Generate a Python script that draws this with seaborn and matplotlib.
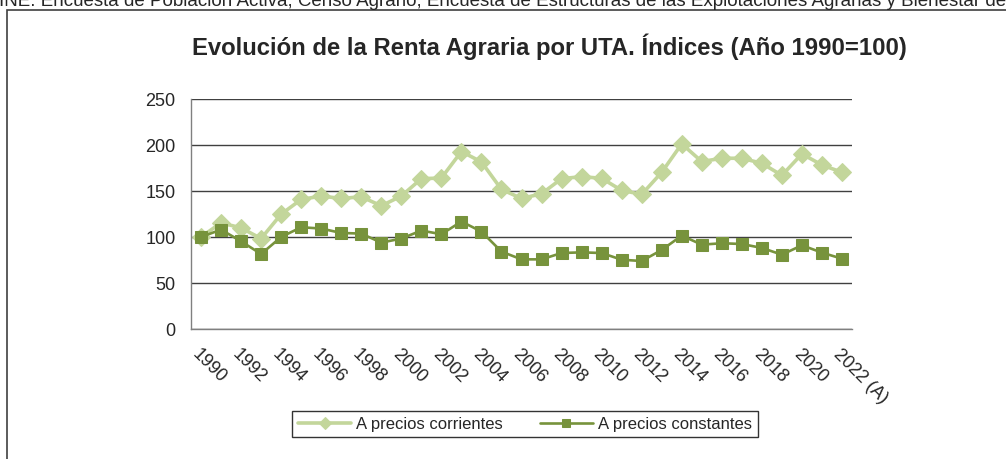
#!/usr/bin/env python3
# -*- coding: utf-8 -*-

import numpy as np
import pandas as pd
import matplotlib
matplotlib.use("Agg")
import matplotlib.pyplot as plt
import matplotlib.transforms as mtransforms
import seaborn as sns
from matplotlib.patches import Rectangle

# ---------------------------------------------------------------------------
# Data
# ---------------------------------------------------------------------------
years = [str(y) for y in range(1990, 2022)] + ["2022 (A)"]

corrientes = [100.0, 115.4, 109.9, 98.3, 124.8, 140.8, 144.5, 141.9, 143.7, 133.9,
              144.5, 163.4, 164.1, 192.9, 181.6, 151.7, 141.9, 147.0, 163.4, 165.6,
              163.8, 150.7, 146.3, 170.3, 201.2, 182.0, 185.6, 185.6, 180.1, 167.0,
              190.3, 178.3, 170.3]

constantes = [100.0, 108.0, 95.3, 81.5, 100.0, 110.6, 109.2, 104.4, 103.7, 93.9,
              98.3, 107.0, 103.0, 116.8, 105.9, 84.1, 75.7, 75.7, 82.6, 83.3,
              82.6, 75.3, 73.9, 85.9, 101.5, 91.7, 93.2, 92.4, 88.1, 80.8,
              91.0, 83.0, 76.4]

colors = {"A precios corrientes": "#C3D69B", "A precios constantes": "#77933C"}

title = "Evolución de la Renta Agraria por UTA. Índices (Año 1990=100)"
source = ("INE. Encuesta de Población Activa, Censo Agrario, Encuesta de Estructuras de las "
          "Explotaciones Agrarias y Bienestar de")

sns.set_style("white")
plt.rcParams["font.family"] = ["Liberation Sans", "DejaVu Sans"]


def main():
    df = pd.DataFrame({
        "pos": np.arange(len(years)),
        "A precios corrientes": corrientes,
        "A precios constantes": constantes,
    })

    fig = plt.figure(figsize=(10.06, 4.59), dpi=100)
    W, H = 1006, 459
    ax = fig.add_axes([191 / W, 1 - 329 / H, (852 - 191) / W, (329 - 99) / H])

    sns.lineplot(data=df, x="pos", y="A precios corrientes", ax=ax,
                 color=colors["A precios corrientes"], marker="D", markersize=9.5,
                 markeredgecolor=colors["A precios corrientes"], linewidth=2.6,
                 label="A precios corrientes")
    sns.lineplot(data=df, x="pos", y="A precios constantes", ax=ax,
                 color=colors["A precios constantes"], marker="s", markersize=8.5,
                 markeredgecolor=colors["A precios constantes"], linewidth=1.9,
                 label="A precios constantes")

    # axes styling (Excel-like)
    ax.set_xlim(-0.5, len(years) - 0.5)
    ax.set_ylim(0, 250)
    ax.set_yticks([0, 50, 100, 150, 200, 250])
    ax.yaxis.grid(True, color="#404040", linewidth=1.0)
    ax.set_axisbelow(True)
    for s in ["top", "right"]:
        ax.spines[s].set_visible(False)
    for s in ["left", "bottom"]:
        ax.spines[s].set_color("#808080")
        ax.spines[s].set_linewidth(1.0)

    ax.set_xticks(np.arange(0, len(years), 2))
    ax.set_xticklabels(years[::2], rotation=-45, ha="left", va="top",
                       rotation_mode="anchor", fontsize=13)
    shift = mtransforms.ScaledTranslation(7 / 100, 0, fig.dpi_scale_trans)
    for lab in ax.get_xticklabels():
        lab.set_transform(lab.get_transform() + shift)
    ax.set_xticks(np.arange(-0.5, len(years), 1), minor=True)
    ax.tick_params(axis="x", which="major", length=0, pad=12)
    ax.tick_params(axis="x", which="minor", length=5, color="#808080", direction="out")
    ax.tick_params(axis="y", length=5, color="#808080", labelsize=13, pad=6)
    ax.set_xlabel("")
    ax.set_ylabel("")

    ax.legend(loc="center", bbox_to_anchor=(525 / W, 1 - 424 / H),
              bbox_transform=fig.transFigure, ncol=2, frameon=True,
              fancybox=False, edgecolor="black", fontsize=12,
              handlelength=3.2, handletextpad=0.3, columnspacing=2.2,
              borderpad=0.35, markerscale=0.65)
    ax.get_legend().get_frame().set_linewidth(1.0)

    fig.text(549 / W, 1 - 47 / H, title, ha="center", va="center",
             fontsize=17.2, fontweight="bold")

    # source line, partially clipped at the top edge as in the original
    fig.text(-1 / W, 1 - 6 / H, source, ha="left", va="baseline", fontsize=13.5)

    # outer chart frame
    fig.patches.append(Rectangle((7 / W, -0.1), 1.2, 1 - 10 / H + 0.1,
                                 transform=fig.transFigure, fill=False,
                                 edgecolor="#404040", linewidth=1.2))

    fig.savefig("out.png", dpi=100)
    plt.close(fig)


if __name__ == "__main__":
    main()
